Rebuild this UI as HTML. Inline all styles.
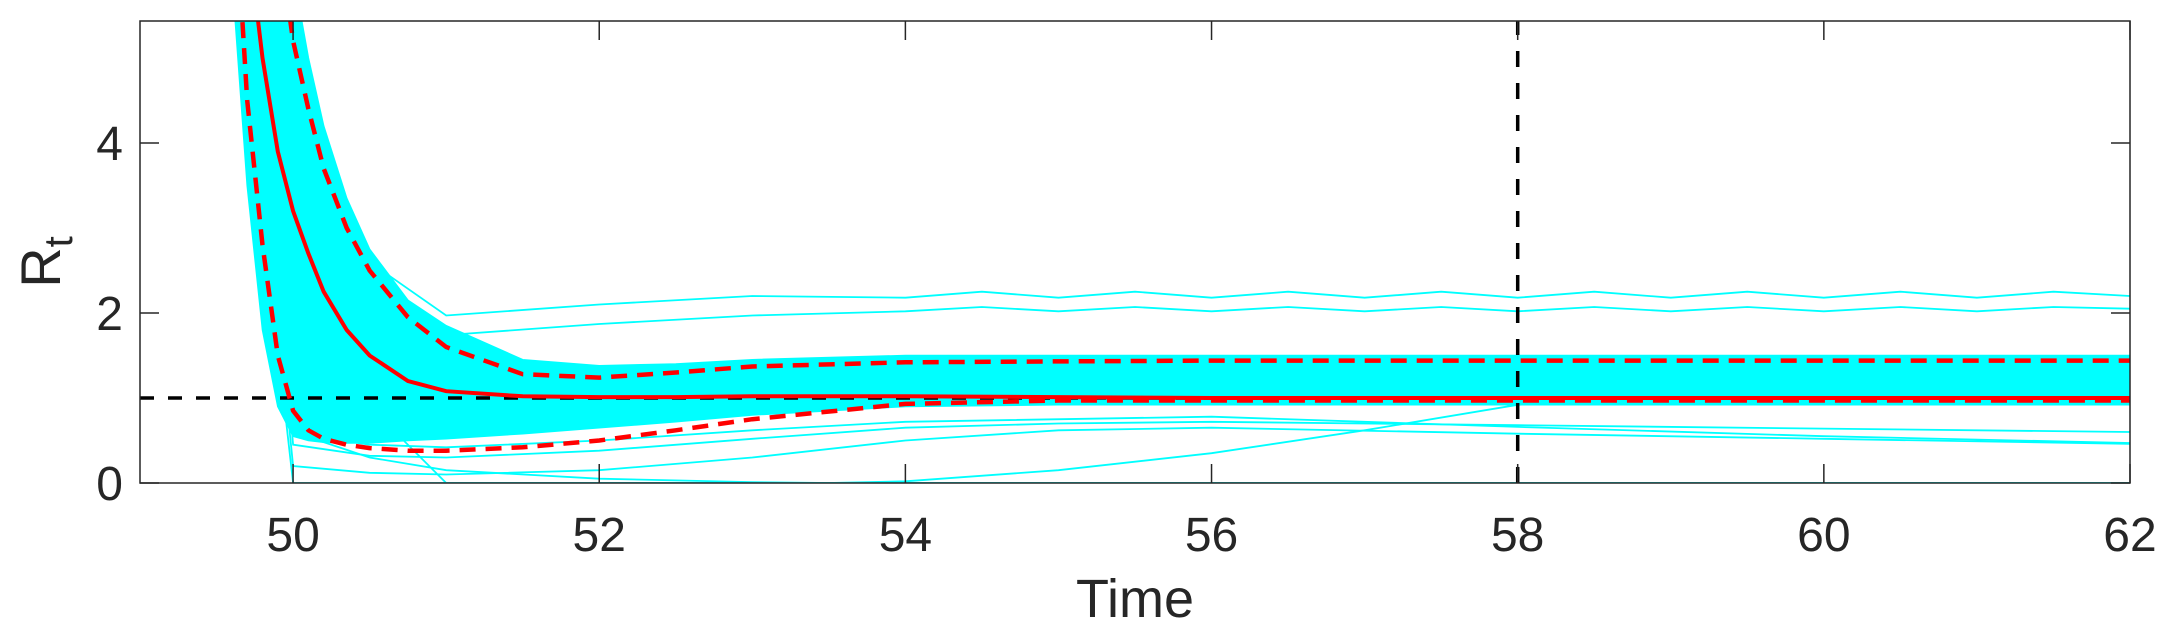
<!DOCTYPE html>
<html><head><meta charset="utf-8">
<style>
html,body{margin:0;padding:0;background:#fff;}
svg{display:block;font-family:"Liberation Sans",Arial,sans-serif;}
</style></head>
<body>
<svg id="chart" width="2178" height="633" viewBox="0 0 2178 633">
<defs><clipPath id="clip"><rect x="140" y="21" width="1990" height="462"/></clipPath></defs>
<rect x="0" y="0" width="2178" height="633" fill="#fff"/>
<g id="plot" clip-path="url(#clip)"></g>
<g id="axes"></g>
</svg>
<script>
// ---- data ----
const xTicks = [50, 52, 54, 56, 58, 60, 62];
const yTicks = [0, 2, 4];
const refLineY = 1;
const refLineX = 58;
const bandT = [49.5,49.6,49.7,49.8,49.9,50,50.1,50.2,50.35,50.5,50.75,51,51.5,52,52.5,53,54,55,56,58,60,62];
const bandUpper = [16,14,12,10,8,6.0,5.0,4.2,3.35,2.75,2.15,1.85,1.45,1.38,1.4,1.45,1.5,1.5,1.5,1.5,1.5,1.5];
const bandLower = [9,6.0,3.5,1.8,0.9,0.55,0.5,0.48,0.47,0.47,0.5,0.52,0.58,0.65,0.72,0.8,0.9,0.92,0.92,0.92,0.92,0.92];
const statT = [49.5,49.6,49.7,49.8,49.9,50,50.1,50.2,50.35,50.5,50.75,51,51.5,52,52.5,53,54,55,56,58,60,62];
const meanR = [12,9,6.5,5.0,3.9,3.2,2.7,2.25,1.8,1.5,1.2,1.08,1.02,1.01,1.01,1.02,1.02,1.01,1.0,1.0,1.0,1.0];
const upperQ = [14,12,10,8,6.5,5.2,4.4,3.7,3.0,2.5,1.95,1.6,1.28,1.24,1.3,1.37,1.42,1.43,1.44,1.44,1.44,1.44];
const lowerQ = [10,7.5,4.5,2.8,1.5,0.85,0.62,0.52,0.45,0.41,0.38,0.38,0.42,0.5,0.62,0.75,0.93,0.97,0.97,0.97,0.97,0.97];
const hi1T = [49.9,50,50.2,50.5,51,52,53,54,54.5,55,55.5,56,56.5,57,57.5,58,58.5,59,59.5,60,60.5,61,61.5,62];
const hi1R = [6,5,3.6,2.6,1.97,2.1,2.2,2.18,2.25,2.18,2.25,2.18,2.25,2.18,2.25,2.18,2.25,2.18,2.25,2.18,2.25,2.18,2.25,2.2];
const hi2T = [49.9,50,50.2,50.5,51,52,53,54,54.5,55,55.5,56,56.5,57,57.5,58,58.5,59,59.5,60,60.5,61,61.5,62];
const hi2R = [5.5,4.5,3.3,2.4,1.74,1.87,1.97,2.02,2.07,2.02,2.07,2.02,2.07,2.02,2.07,2.02,2.07,2.02,2.07,2.02,2.07,2.02,2.07,2.05];
const zeroAT = [49.6,49.8,49.95,50.0,62];
const zeroAR = [8,3,0.8,0,0];
const lowBT = [49.7,49.9,50,50.5,51,52,53,54,55,56,58,60,62];
const lowBR = [8,2,0.2,0.12,0.1,0.15,0.3,0.5,0.62,0.65,0.58,0.52,0.46];
const lowCT = [49.7,49.9,50,50.5,51,52,53,54,55,56,58,60,62];
const lowCR = [8,2.5,0.45,0.32,0.3,0.38,0.52,0.65,0.7,0.72,0.68,0.64,0.6];
const lowDT = [49.7,49.9,50,50.5,51,52,53,54,56,58,60,62];
const lowDR = [8,2.6,0.59,0.45,0.42,0.5,0.62,0.72,0.78,0.66,0.55,0.47];
const zeroET = [49.8,50.2,50.5,51.0,62];
const zeroER = [6,1.2,0.9,0,0];
const riseT = [49.8,50,50.5,51,52,53,53.5,54,55,56,57,58,58.7,62];
const riseR = [5,0.6,0.3,0.15,0.05,0.01,0,0.02,0.15,0.35,0.62,0.92,1.0,1.0];

// ---- scales ----
const X0=140, X1=2130, Y0=483, Y1=21;
const xMin=49, xMax=62, yMin=0, yMax=5.435;
function sx(t){return X0+(t-xMin)/(xMax-xMin)*(X1-X0);}
function sy(r){return Y0-(r-yMin)/(yMax-yMin)*(Y0-Y1);}
const NS='http://www.w3.org/2000/svg';
const plot=document.getElementById('plot');
const axes=document.getElementById('axes');
function mk(tag,attrs,parent){const e=document.createElementNS(NS,tag);for(const k in attrs)e.setAttribute(k,attrs[k]);parent.appendChild(e);return e;}
function pts(T,R){return T.map((t,i)=>sx(t).toFixed(1)+','+sy(R[i]).toFixed(1)).join(' ');}

let bandPts=pts(bandT,bandUpper)+' '+pts(bandT.slice().reverse(),bandLower.slice().reverse());
const band=mk('polygon',{points:bandPts,fill:'#00ffff',stroke:'#00ffff','stroke-width':1.5},plot);



const cyanCurves=[[hi1T,hi1R,'trajectory-high-1'],[hi2T,hi2R,'trajectory-high-2'],[zeroAT,zeroAR,'trajectory-zero-a'],[lowBT,lowBR,'trajectory-low-b'],[lowCT,lowCR,'trajectory-low-c'],[lowDT,lowDR,'trajectory-low-d'],[zeroET,zeroER,'trajectory-zero-e'],[riseT,riseR,'trajectory-rising']];
cyanCurves.forEach(c=>{
  const p=mk('polyline',{points:pts(c[0],c[1]),fill:'none',stroke:'#00ffff','stroke-width':1.8},plot);
  
  
});

const hl=mk('line',{x1:X0,x2:X1,y1:sy(refLineY),y2:sy(refLineY),stroke:'#000','stroke-width':3.5,'stroke-dasharray':'14 14'},plot);


const vl=mk('line',{x1:sx(refLineX),x2:sx(refLineX),y1:Y0,y2:Y1,stroke:'#000','stroke-width':3.5,'stroke-dasharray':'16 16'},plot);



const up=mk('polyline',{points:pts(statT,upperQ),fill:'none',stroke:'#ff0000','stroke-width':4.5,'stroke-dasharray':'16 10'},plot);


const lo=mk('polyline',{points:pts(statT,lowerQ),fill:'none',stroke:'#ff0000','stroke-width':4.5,'stroke-dasharray':'16 10'},plot);


const mn=mk('polyline',{points:pts(statT,meanR),fill:'none',stroke:'#ff0000','stroke-width':4},plot);



const box=mk('rect',{x:X0,y:Y1,width:X1-X0,height:Y0-Y1,fill:'none',stroke:'#262626','stroke-width':1.5},axes);


xTicks.forEach(t=>{
  const x=sx(t);
  const a=mk('line',{x1:x,x2:x,y1:Y0,y2:Y0-19,stroke:'#262626','stroke-width':1.5},axes);
  
  
  const b=mk('line',{x1:x,x2:x,y1:Y1,y2:Y1+19,stroke:'#262626','stroke-width':1.5},axes);
  
  
  const l=mk('text',{x:x,y:551,'font-size':48,fill:'#262626','text-anchor':'middle'},axes);
  l.textContent=t;
  
  
});
yTicks.forEach(v=>{
  const y=sy(v);
  const a=mk('line',{x1:X0,x2:X0+19,y1:y,y2:y,stroke:'#262626','stroke-width':1.5},axes);
  
  
  const b=mk('line',{x1:X1,x2:X1-19,y1:y,y2:y,stroke:'#262626','stroke-width':1.5},axes);
  
  
  const l=mk('text',{x:X0-17,y:y+17,'font-size':48,fill:'#262626','text-anchor':'end'},axes);
  l.textContent=v;
  
  
});
const xl=mk('text',{x:(X0+X1)/2,y:617,'font-size':54,fill:'#262626','text-anchor':'middle'},axes);
xl.textContent='Time';


const yl=mk('text',{x:0,y:0,'font-size':56,fill:'#262626',transform:'translate(60,262) rotate(-90)','text-anchor':'middle'},axes);


const r=mk('tspan',{},yl); r.textContent='R';
const s=mk('tspan',{dy:12,'font-size':40},yl); s.textContent='t';
</script>
</body></html>
